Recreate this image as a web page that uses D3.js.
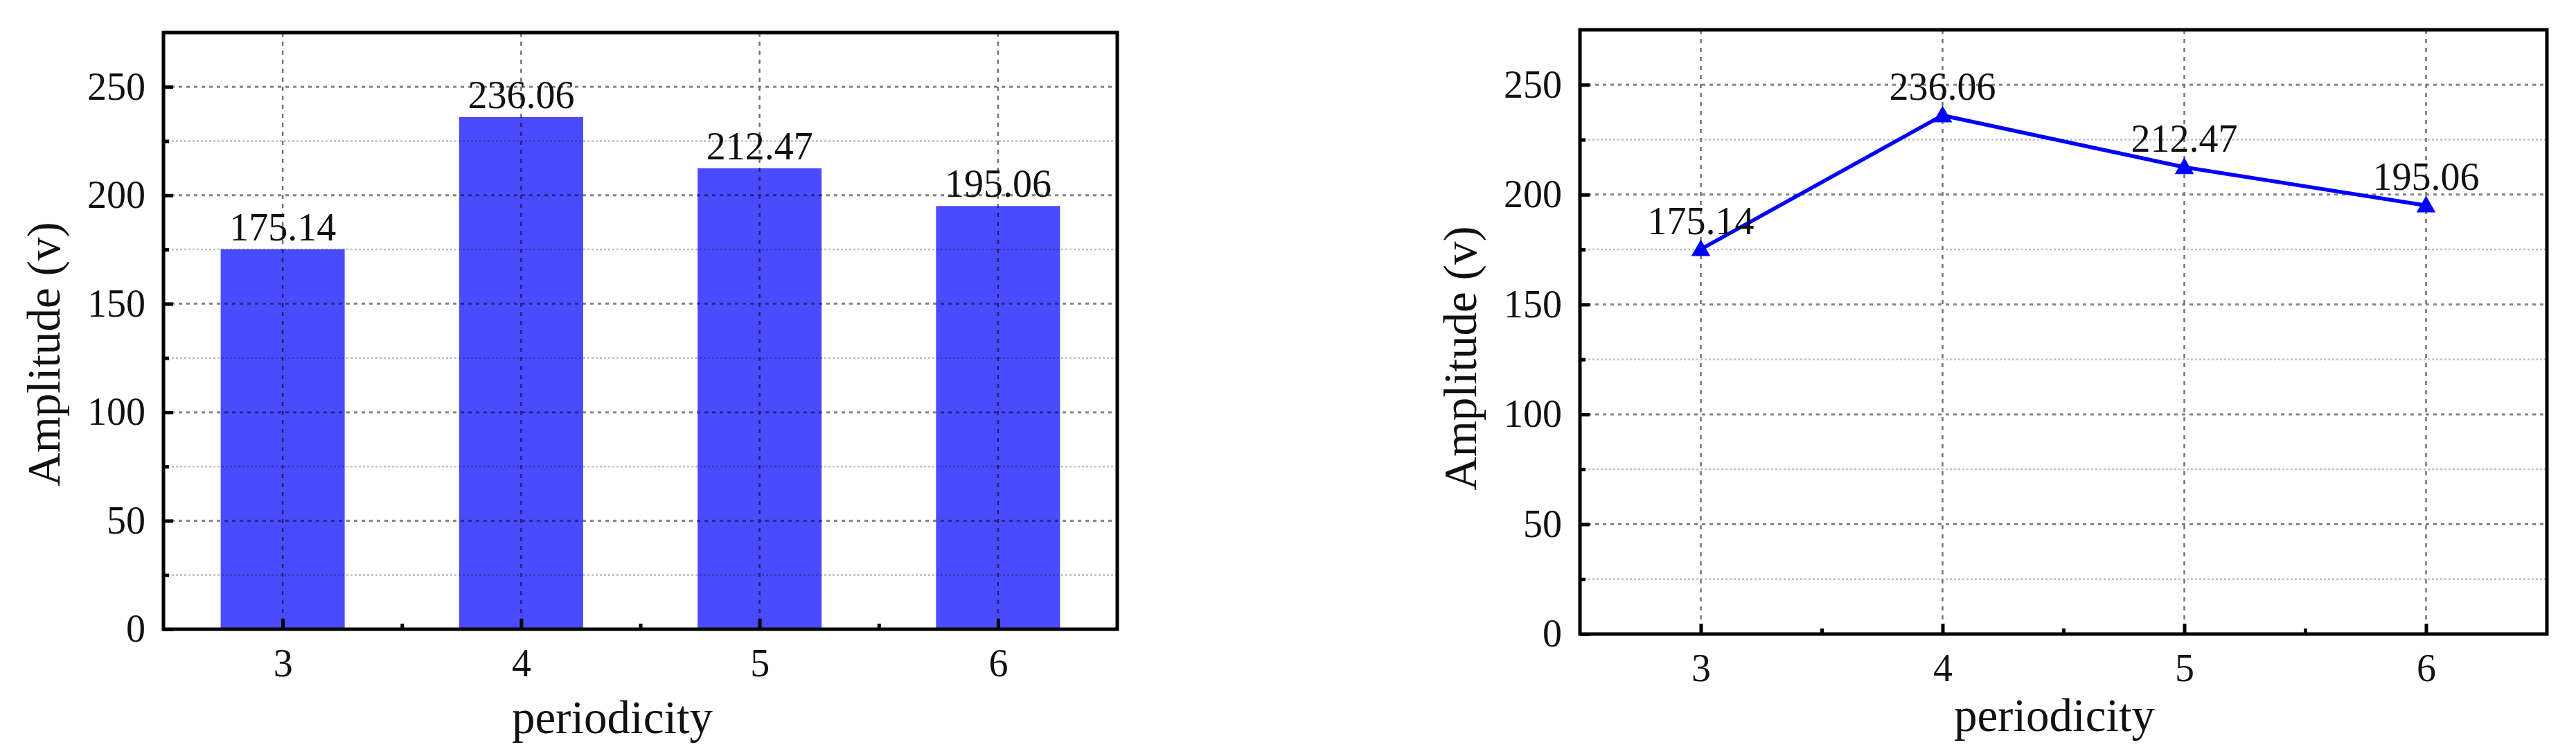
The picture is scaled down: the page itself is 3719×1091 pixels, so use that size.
<!DOCTYPE html>
<html><head><meta charset="utf-8">
<script src="https://cdn.jsdelivr.net/npm/d3@7"></script>
<style>body{margin:0;background:#fff} svg{display:block}</style>
</head><body>
<svg id="chart" width="3719" height="1091"></svg>
<script>
// ---- data ----
const categories = [3, 4, 5, 6];
const amplitudes = [175.14, 236.06, 212.47, 195.06];
const yMajorTicks = [0, 50, 100, 150, 200, 250];
const yMinorTicks = [25, 75, 125, 175, 225];
const xMinorTicks = [3.5, 4.5, 5.5];
const xDomain = [2.5, 6.5];
const yDomain = [0, 275];
const xTitle = "periodicity";
const yTitle = "Amplitude (v)";

// ---- layout ----
const FONT = "'Liberation Serif','Times New Roman',serif";
const panels = [
  {type: "bar",  x0: 236,  x1: 1613, y0: 47, y1: 908, yt: [86, 511],   xt: [884, 1058]},
  {type: "line", x0: 2281, x1: 3677, y0: 43, y1: 915, yt: [2131, 517], xt: [2966, 1055]}
];

const svg = d3.select("#chart");
svg.append("rect").attr("width", 3719).attr("height", 1091).attr("fill", "#fff");

panels.forEach(p => {
  const x = d3.scaleLinear().domain(xDomain).range([p.x0, p.x1]);
  const y = d3.scaleLinear().domain(yDomain).range([p.y1, p.y0]);
  const g = svg.append("g");
  const data = categories.map((c, i) => ({c, v: amplitudes[i]}));

  // bars (under grid)
  if (p.type === "bar") {
    const step = x(4) - x(3);
    const bw = step * 0.52;
    g.append("g").selectAll("rect").data(data).join("rect")
      .attr("x", d => x(d.c) - bw / 2)
      .attr("y", d => y(d.v))
      .attr("width", bw)
      .attr("height", d => y(0) - y(d.v))
      .attr("fill", "#4a4aff");
  }

  // grid
  const grid = g.append("g").style("mix-blend-mode", "multiply");
  grid.selectAll("line.minor").data(yMinorTicks).join("line").attr("class", "minor")
    .attr("x1", p.x0).attr("x2", p.x1).attr("y1", d => y(d)).attr("y2", d => y(d))
    .attr("stroke", "#c0c0c0").attr("stroke-width", 2.5).attr("stroke-dasharray", "3 3");
  grid.selectAll("line.major").data(yMajorTicks.filter(t => t > 0)).join("line").attr("class", "major")
    .attr("x1", p.x0).attr("x2", p.x1).attr("y1", d => y(d)).attr("y2", d => y(d))
    .attr("stroke", "#858585").attr("stroke-width", 3).attr("stroke-dasharray", "5 6");
  grid.selectAll("line.vert").data(categories).join("line").attr("class", "vert")
    .attr("x1", d => x(d)).attr("x2", d => x(d)).attr("y1", p.y0).attr("y2", p.y1)
    .attr("stroke", "#737373").attr("stroke-width", 2.5).attr("stroke-dasharray", "6 7");

  // line + markers
  if (p.type === "line") {
    g.append("path").datum(data)
      .attr("d", d3.line().x(d => x(d.c)).y(d => y(d.v)))
      .attr("fill", "none").attr("stroke", "#0000ff").attr("stroke-width", 5.5);
    g.append("g").selectAll("path").data(data).join("path")
      .attr("transform", d => `translate(${x(d.c)},${y(d.v) + 2})`)
      .attr("d", d3.symbol(d3.symbolTriangle, 330))
      .attr("fill", "#0000ff");
  }

  // value labels
  g.append("g").selectAll("text").data(data).join("text")
    .attr("x", d => x(d.c))
    .attr("y", d => y(d.v) - (p.type === "bar" ? 13 : 22))
    .attr("text-anchor", "middle")
    .attr("font-family", FONT).attr("font-size", 56).attr("fill", "#111")
    .text(d => d.v.toFixed(2));

  // axes
  const axL = g.append("g").attr("transform", `translate(${p.x0},0)`)
    .call(d3.axisLeft(y).tickValues(yMajorTicks).tickSize(-14).tickPadding(26));
  const axLm = g.append("g").attr("transform", `translate(${p.x0},0)`)
    .call(d3.axisLeft(y).tickValues(yMinorTicks).tickSize(-8).tickFormat(""));
  const axB = g.append("g").attr("transform", `translate(0,${p.y1})`)
    .call(d3.axisBottom(x).tickValues(categories).tickSize(-15).tickPadding(28).tickFormat(d3.format("d")));
  const axBm = g.append("g").attr("transform", `translate(0,${p.y1})`)
    .call(d3.axisBottom(x).tickValues(xMinorTicks).tickSize(-8).tickFormat(""));
  [axL, axLm, axB, axBm].forEach(a => {
    a.select(".domain").remove();
    a.selectAll(".tick line").attr("stroke", "#000").attr("stroke-width", 5);
    a.selectAll("text").attr("font-family", FONT).attr("font-size", 56).attr("fill", "#111");
  });

  // frame
  g.append("rect").attr("x", p.x0).attr("y", p.y0)
    .attr("width", p.x1 - p.x0).attr("height", p.y1 - p.y0)
    .attr("fill", "none").attr("stroke", "#000").attr("stroke-width", 5);

  // titles
  g.append("text").attr("transform", `translate(${p.yt[0]},${p.yt[1]}) rotate(-90)`)
    .attr("text-anchor", "middle").attr("font-family", FONT).attr("font-size", 67).attr("fill", "#111")
    .text(yTitle);
  g.append("text").attr("x", p.xt[0]).attr("y", p.xt[1])
    .attr("text-anchor", "middle").attr("font-family", FONT).attr("font-size", 67).attr("fill", "#111")
    .text(xTitle);
});
</script>
</body></html>
